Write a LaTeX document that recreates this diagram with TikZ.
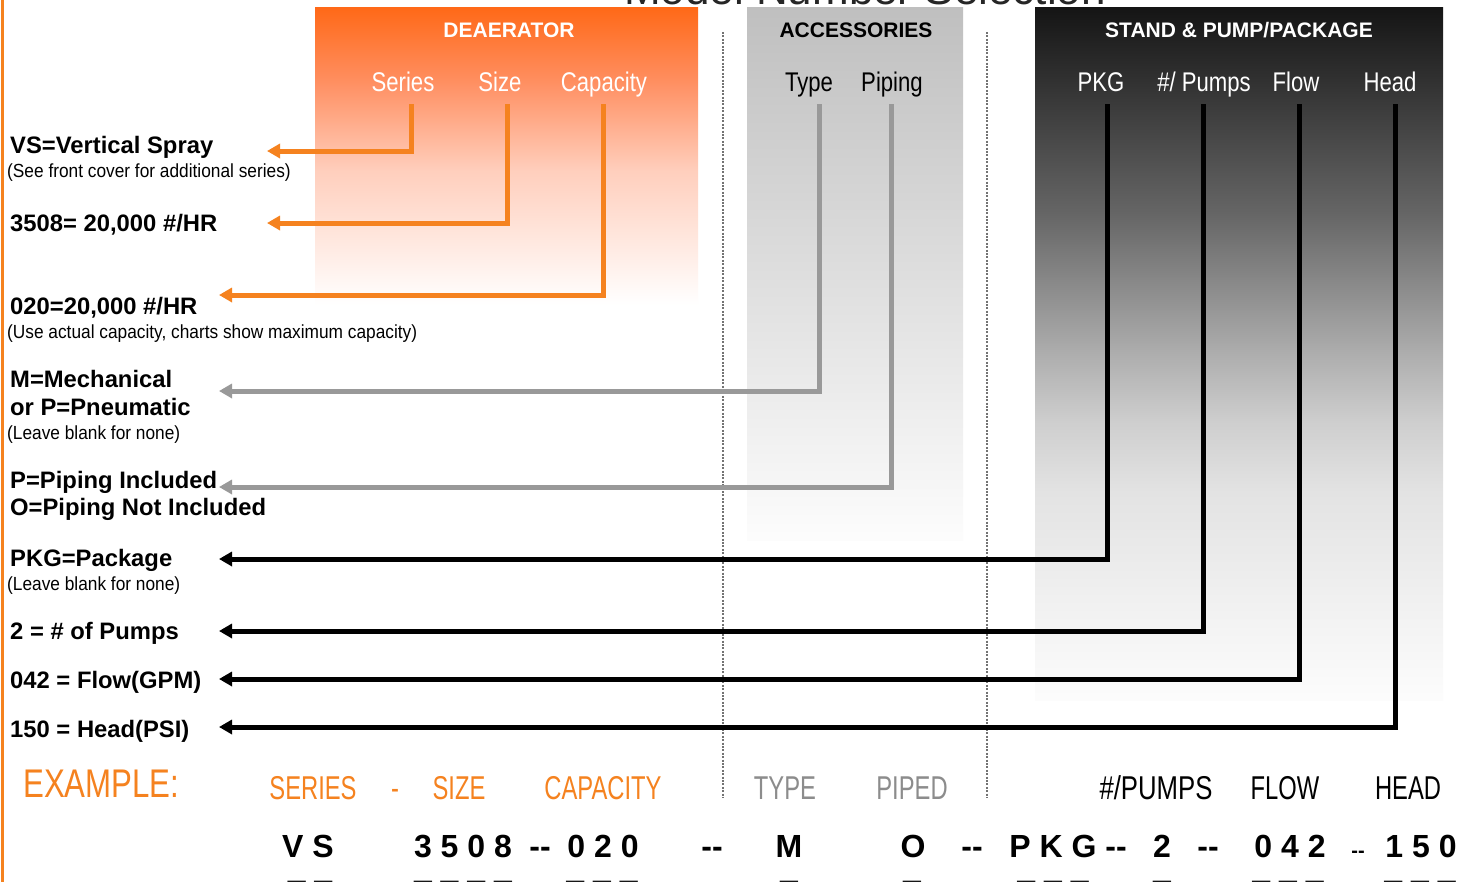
\documentclass[tikz,border=0pt]{standalone}
\usepackage{fontspec}
\setmainfont{Liberation Sans}
\newfontfamily\narrowf[FakeStretch=0.82]{Liberation Sans}
\newfontfamily\smallf[FakeStretch=0.91]{Liberation Sans}
\newfontfamily\condf[FakeStretch=0.72]{Liberation Sans}
\newfontfamily\condxf[FakeStretch=0.78]{Liberation Sans}
\usetikzlibrary{arrows.meta}
\definecolor{orng}{HTML}{F5821F}
\definecolor{lgray}{HTML}{999999}
\definecolor{txtgray}{HTML}{8C8C8C}
\pgfdeclareverticalshading{orfade}{100bp}{rgb(0bp)=(1,1,1); rgb(25bp)=(1,1,1); rgb(47.5bp)=(1,0.81,0.74); rgb(62.5bp)=(1,0.56,0.38); rgb(75bp)=(1,0.41,0.09); rgb(100bp)=(1,0.41,0.09)}
\pgfdeclareverticalshading{gyfade}{100bp}{rgb(0bp)=(1,1,1); rgb(25bp)=(0.99,0.99,0.99); rgb(75bp)=(0.75,0.75,0.75); rgb(100bp)=(0.75,0.75,0.75)}
\pgfdeclareverticalshading{bkfade}{100bp}{rgb(0bp)=(0.99,0.99,0.99); rgb(25bp)=(0.99,0.99,0.99); rgb(40bp)=(0.89,0.89,0.89); rgb(45bp)=(0.81,0.81,0.81); rgb(50bp)=(0.68,0.68,0.68); rgb(60bp)=(0.40,0.40,0.40); rgb(75bp)=(0.08,0.08,0.08); rgb(100bp)=(0.08,0.08,0.08)}
\newcommand\fs[1]{\fontsize{#1bp}{#1bp}\selectfont}
\newcommand\twohy{-\kern0pt-}
\begin{document}
\begin{tikzpicture}[x=1bp,y=-1bp,
  lbl/.style={anchor=base west, inner sep=0pt, font=\bfseries\fs{23.8}},
  note/.style={anchor=base west, inner sep=0pt, font=\smallf\fs{19}},
  hdr/.style={anchor=base, inner sep=0pt, font=\bfseries\fs{21}},
  sub/.style={anchor=base, inner sep=0pt, font=\narrowf\fs{27}},
  ex/.style={anchor=base, inner sep=0pt, font=\condf\fs{33}},
  code/.style={anchor=base, inner sep=0pt, font=\bfseries\fs{32}},
  conn/.style={line width=5bp, line join=miter, -{Triangle[length=13bp,width=14bp]}},
  orl/.style={conn, draw=orng},
  grl/.style={conn, draw=lgray},
  bkl/.style={conn, draw=black},
  sep/.style={draw=black!55, line width=1.6bp, dash pattern=on 2bp off 1.4bp}
]
\useasboundingbox (0,0) rectangle (1470,882);
\fill[white] (0,0) rectangle (1470,882);

% title (cut off at top)
\node[anchor=base, inner sep=0pt, font=\fs{44}, text=black!85] (title) at (865,4) {Model Number Selection};

% left orange rule
\fill[orng] (1,0) rectangle (4,882);

% shaded boxes
\shade[shading=orfade] (315,7) rectangle (698,305);
\shade[shading=gyfade] (747,7) rectangle (963,540);
\shade[shading=bkfade] (1035,7) rectangle (1443,700);

% separators
\draw[sep] (723,32) -- (723,798);
\draw[sep] (987,32) -- (987,798);

% headers
\node[hdr, text=white] (deaer) at (509,37.5) {DEAERATOR};
\node[hdr, text=black] (acc) at (856,37.5) {ACCESSORIES};
\node[hdr, text=white] (stand) at (1239,37.5) {STAND \& PUMP/PACKAGE};

\node[sub, text=white] (ser) at (403,91) {Series};
\node[sub, text=white] (siz) at (500,91) {Size};
\node[sub, text=white] (cap) at (604,91) {Capacity};
\node[sub, text=black] (typ) at (809,91) {Type};
\node[sub, text=black] (pip) at (892,91) {Piping};
\node[sub, text=white] (pkg) at (1101,91) {PKG};
\node[sub, text=white] (pmp) at (1204,91) {\#/ Pumps};
\node[sub, text=white] (flw) at (1296,91) {Flow};
\node[sub, text=white] (hed) at (1390,91) {Head};

% left labels
\node[lbl] (vs) at (10,153) {VS=Vertical Spray};
\node[note] (vsn) at (7,177) {(See front cover for additional series)};
\node[lbl] (sz) at (10,231) {3508= 20,000 \#/HR};
\node[lbl] (cp) at (10,314) {020=20,000 \#/HR};
\node[note] (cpn) at (7,338) {(Use actual capacity, charts show maximum capacity)};
\node[lbl] (ty1) at (10,387) {M=Mechanical};
\node[lbl] (ty2) at (10,415) {or P=Pneumatic};
\node[note] (tyn) at (7,439) {(Leave blank for none)};
\node[lbl] (pi1) at (10,488) {P=Piping Included};
\node[lbl] (pi2) at (10,515) {O=Piping Not Included};
\node[lbl] (pk) at (10,566) {PKG=Package};
\node[note] (pkn) at (7,590) {(Leave blank for none)};
\node[lbl] (pu) at (10,639) {2 = \# of Pumps};
\node[lbl] (fl) at (10,688) {042 = Flow(GPM)};
\node[lbl] (hd) at (10,737) {150 = Head(PSI)};

% connector start / end points
\coordinate (ser-s) at (411,104);
\coordinate (siz-s) at (507,104);
\coordinate (cap-s) at (603,104);
\coordinate (typ-s) at (819,104);
\coordinate (pip-s) at (891,104);
\coordinate (pkg-s) at (1107,104);
\coordinate (pmp-s) at (1203,104);
\coordinate (flw-s) at (1299,104);
\coordinate (hed-s) at (1395,104);

\coordinate (vs-e) at (267,151);
\coordinate (sz-e) at (267,223);
\coordinate (cp-e) at (219,295);
\coordinate (ty-e) at (219,391);
\coordinate (pi-e) at (219,487);
\coordinate (pk-e) at (219,559);
\coordinate (pu-e) at (219,631);
\coordinate (fl-e) at (219,679);
\coordinate (hd-e) at (219,727);

\draw[orl] (ser-s) |- (vs-e);
\draw[orl] (siz-s) |- (sz-e);
\draw[orl] (cap-s) |- (cp-e);
\draw[grl] (typ-s) |- (ty-e);
\draw[grl] (pip-s) |- (pi-e);
\draw[bkl] (pkg-s) |- (pk-e);
\draw[bkl] (pmp-s) |- (pu-e);
\draw[bkl] (flw-s) |- (fl-e);
\draw[bkl] (hed-s) |- (hd-e);

% example row
\node[anchor=base west, inner sep=0pt, font=\condxf\fs{40}, text=orng] (exm) at (23,797) {EXAMPLE:};
\node[ex, text=orng] (exser) at (313,799) {SERIES};
\node[ex, text=orng] (exdash) at (395,799) {-};
\node[ex, text=orng] (exsiz) at (459,799) {SIZE};
\node[ex, text=orng] (excap) at (603,799) {CAPACITY};
\node[ex, text=txtgray] (extyp) at (785,799) {TYPE};
\node[ex, text=txtgray] (expip) at (912,799) {PIPED};
\node[ex, font=\condxf\fs{33}, text=black] (expmp) at (1156,799) {\#/PUMPS};
\node[ex, text=black] (exflw) at (1285,799) {FLOW};
\node[ex, text=black] (exhed) at (1408,799) {HEAD};

% code row
\node[code] (c1) at (308,857) {V S};
\node[code] (c2) at (463,857) {3 5 0 8};
\node[code] (d1) at (540,857) {\twohy};
\node[code] (c3) at (603,857) {0 2 0};
\node[code] (d2) at (712,857) {\twohy};
\node[code] (c4) at (789,857) {M};
\node[code] (c5) at (913,857) {O};
\node[code] (d3) at (972,857) {\twohy};
\node[code] (c6) at (1053,857) {P K G};
\node[code] (d4) at (1116,857) {\twohy};
\node[code] (c7) at (1162,857) {2};
\node[code] (d5) at (1208,857) {\twohy};
\node[code] (c8) at (1290,857) {0 4 2};
\node[code, font=\bfseries\fs{20}] (d6) at (1358,857) {\twohy};
\node[code] (c9) at (1421,857) {1 5 0};

% blanks (cut off at bottom)
\node[code] (u1) at (310,878) {\_ \_};
\node[code] (u2) at (463,878) {\_ \_ \_ \_};
\node[code] (u3) at (602,878) {\_ \_ \_};
\node[code] (u4) at (789,878) {\_};
\node[code] (u5) at (912,878) {\_};
\node[code] (u6) at (1053,878) {\_ \_ \_};
\node[code] (u7) at (1162,878) {\_};
\node[code] (u8) at (1288,878) {\_ \_ \_};
\node[code] (u9) at (1420,878) {\_ \_ \_};
\end{tikzpicture}
\end{document}
